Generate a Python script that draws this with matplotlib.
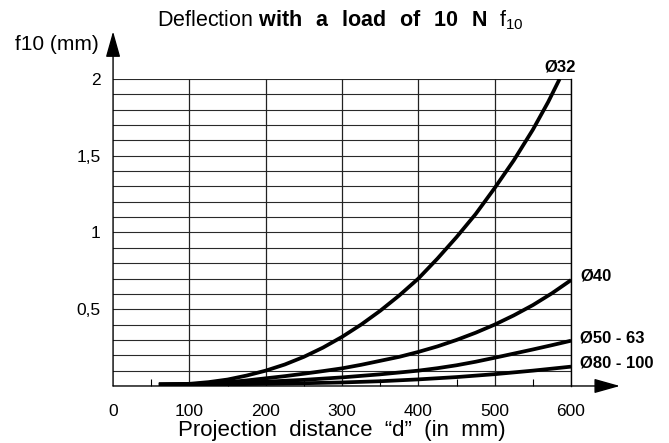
import matplotlib.pyplot as plt
from matplotlib.ticker import MultipleLocator, FixedLocator

# values
d_32 = [60, 100, 125, 150, 175, 200, 225, 250, 275, 300, 325, 350, 375, 400,
        425, 450, 475, 500, 525, 550, 570, 585]
f_32 = [0.01, 0.014, 0.025, 0.042, 0.068, 0.10, 0.14, 0.19, 0.25, 0.32, 0.40,
        0.49, 0.59, 0.70, 0.83, 0.97, 1.12, 1.29, 1.47, 1.67, 1.85, 2.0]
d_40 = [60, 100, 125, 150, 175, 200, 225, 250, 275, 300, 325, 350, 375, 400,
        425, 450, 475, 500, 525, 550, 575, 600]
f_40 = [0.01, 0.012, 0.017, 0.025, 0.036, 0.05, 0.064, 0.08, 0.097, 0.115,
        0.138, 0.164, 0.19, 0.222, 0.258, 0.30, 0.347, 0.40, 0.46, 0.527, 0.604,
        0.69]
d_50 = [60, 100, 150, 200, 250, 300, 350, 400, 425, 450, 475, 500, 525, 550,
        575, 600]
f_50 = [0.01, 0.012, 0.018, 0.028, 0.04, 0.056, 0.076, 0.10, 0.116, 0.135,
        0.158, 0.184, 0.211, 0.238, 0.266, 0.295]
d_80 = [60, 100, 150, 200, 250, 300, 350, 400, 450, 500, 550, 600]
f_80 = [0.008, 0.009, 0.011, 0.014, 0.018, 0.023, 0.031, 0.043, 0.058, 0.077,
        0.10, 0.126]

x_ticks = [0, 100, 200, 300, 400, 500, 600]
y_ticks = [0.5, 1, 1.5, 2]
y_labels = ['0,5', '1', '1,5', '2']

plt.rcParams['font.family'] = ['Liberation Sans', 'DejaVu Sans']
plt.rcParams['mathtext.fontset'] = 'custom'
plt.rcParams['mathtext.rm'] = 'Liberation Sans'
plt.rcParams['mathtext.bf'] = 'Liberation Sans:bold'

fig = plt.figure(figsize=(6.69, 4.43), dpi=100)
ax = fig.add_axes([0.169, 0.1287, 0.6846, 0.693])
ax.set_xlim(0, 600)
ax.set_ylim(0, 2)

# grid
for yy in [i / 10 for i in range(1, 21)]:
    ax.axhline(yy, color='#2a2a2a', lw=0.8, zorder=1)
for xx in x_ticks[1:]:
    ax.axvline(xx, color='#222222', lw=0.9, zorder=1)

lw = 2.7
for d, f in [(d_32, f_32), (d_40, f_40), (d_50, f_50), (d_80, f_80)]:
    ax.plot(d, f, color='black', lw=lw, solid_capstyle='butt',
            solid_joinstyle='round', zorder=3)

lab = dict(fontweight='bold', fontsize=12, color='black')
ax.text(586, 2.03, 'Ø32', ha='center', va='bottom', **lab)
ax.text(612, 0.717, 'Ø40', ha='left', va='center', **lab)
ax.text(612, 0.313, 'Ø50 - 63', ha='left', va='center', **lab)
ax.text(612, 0.15, 'Ø80 - 100', ha='left', va='center', **lab)

for s in ['left', 'bottom', 'top']:
    ax.spines[s].set_visible(False)
ax.spines['right'].set_linewidth(1.0)

arrow = dict(arrowstyle='-|>,head_length=1.6,head_width=0.45', color='black',
             lw=1.0, shrinkA=0, shrinkB=0, mutation_scale=10)
ax.annotate('', xy=(0, 2.31), xytext=(0, 0), arrowprops=arrow,
            annotation_clip=False)
ax.annotate('', xy=(664, 0), xytext=(0, 0), arrowprops=arrow,
            annotation_clip=False)

ax.xaxis.set_major_locator(FixedLocator(x_ticks))
ax.xaxis.set_minor_locator(MultipleLocator(50))
ax.tick_params(axis='x', which='major', length=0, pad=13, labelsize=12.5)
ax.tick_params(axis='x', which='minor', direction='in', length=5, width=0.8)
ax.set_yticks(y_ticks)
ax.set_yticklabels(y_labels)
ax.tick_params(axis='y', length=0, pad=9, labelsize=12.5)

ax.set_xlabel('Projection  distance  \u201cd\u201d  (in  mm)', fontsize=16, labelpad=1)

fig.text(0.508, 0.955,
         r'Deflection $\mathbf{with\ \ a\ \ load\ \ of\ \ 10\ \ N}$  f$_{10}$',
         ha='center', va='center', fontsize=15.5)
fig.text(0.022, 0.9, 'f10 (mm)', ha='left', va='center', fontsize=15)

fig.savefig('out.png', dpi=100)
